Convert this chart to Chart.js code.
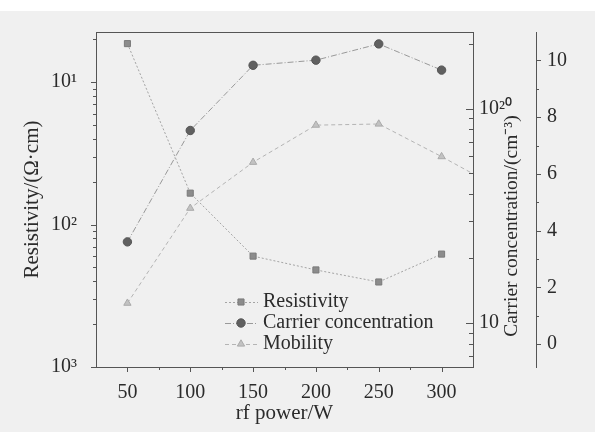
<!DOCTYPE html>
<html lang="zh-cn">
<head>
<meta charset="UTF-8">
<title>rf power</title>
<script src="https://cdn.jsdelivr.net/npm/chart.js"></script>
<style>
  html, body { margin: 0; padding: 0; background: #f0f0f0; }
  #box { width: 595px; height: 432px; }
</style>
</head>
<body>
<div id="box"><canvas id="grafico" width="595" height="432"></canvas></div>
<script>
// dados
var potencia = [50, 100, 150, 200, 250, 300, 350];
var resistividade = [0.186, 0.0166, 0.0060, 0.0048, 0.00395, 0.0062, null];
var concentracao = [2.39e19, 7.9e19, 1.59e20, 1.68e20, 2.0e20, 1.51e20, null];
var mobilidade = [1.44, 4.79, 6.41, 7.72, 7.76, 6.61, 5.4];

var xTicks = [50, 100, 150, 200, 250, 300];
var xMinor = [75, 125, 175, 225, 275];
var leftTicks = [1e-3, 1e-2, 1e-1];
var leftLabels = ['10³', '10²', '10¹'];
var innerTicks = [1e19, 1e20];
var innerLabels = ['10', '10²⁰'];
var outerTicks = [0, 2, 4, 6, 8, 10];
var outerMinor = [1, 3, 5, 7, 9];

function logMinors(lo, hi) {
    var out = [];
    for (var e = -4; e <= 21; e++) {
        for (var m = 2; m <= 9; m++) {
            var v = m * Math.pow(10, e);
            if (v > lo && v < hi) out.push(v);
        }
    }
    return out;
}

var fonte = 'Liberation Serif, Times New Roman, serif';
var corTexto = '#2b2b2b';
var corEixo = '#555';

function pts(ys) {
    return potencia.map(function (x, i) { return { x: x, y: ys[i] }; });
}

var fundo = {
    id: 'fundo',
    beforeDraw(chart) {
        var ctx = chart.ctx;
        ctx.save();
        ctx.fillStyle = '#f0f0f0';
        ctx.fillRect(0, 0, chart.width, chart.height);
        ctx.fillStyle = '#ffffff';
        ctx.fillRect(0, 0, chart.width, 11);
        ctx.restore();
    }
};

// tracinhos dos eixos (maiores e menores)
var marcas = {
    id: 'marcas',
    afterDraw(chart) {
        var ctx = chart.ctx;
        var a = chart.chartArea;
        var s = chart.scales;
        ctx.save();
        ctx.strokeStyle = corEixo;
        ctx.lineWidth = 1;
        ctx.beginPath();
        // borda de cima
        ctx.moveTo(a.left, a.top + 0.5);
        ctx.lineTo(a.right, a.top + 0.5);

        function horiz(scale, vals, len) {
            vals.forEach(function (v) {
                var p = Math.round(scale.getPixelForValue(v)) + 0.5;
                ctx.moveTo(p, a.bottom);
                ctx.lineTo(p, a.bottom + len);
            });
        }
        function vert(scale, vals, x, len) {
            vals.forEach(function (v) {
                var p = Math.round(scale.getPixelForValue(v)) + 0.5;
                ctx.moveTo(x, p);
                ctx.lineTo(x + len, p);
            });
        }
        horiz(s.x, xTicks, 5);
        horiz(s.x, xMinor, 3);
        vert(s.y, leftTicks, a.left, -5);
        vert(s.y, logMinors(s.y.min, s.y.max), a.left, -3);
        vert(s.y1, innerTicks, a.right, -7);
        vert(s.y1, logMinors(s.y1.min, s.y1.max), a.right, -4);
        vert(s.y2, outerTicks, s.y2.left, 5);
        vert(s.y2, outerMinor, s.y2.left, 3);
        ctx.stroke();

        // titulo do eixo da direita
        ctx.fillStyle = corTexto;
        ctx.font = '19.5px ' + fonte;
        ctx.textAlign = 'center';
        ctx.textBaseline = 'middle';
        ctx.translate(512, 226);
        ctx.rotate(-Math.PI / 2);
        ctx.fillText('Carrier concentration/(cm⁻³)', 0, 0);
        ctx.restore();
    }
};

// legenda com linha e marcador
var legenda = {
    id: 'legenda',
    afterDraw(chart) {
        var ctx = chart.ctx;
        ctx.save();
        chart.data.datasets.forEach(function (ds, i) {
            var y = 302 + i * 21;
            ctx.strokeStyle = ds.borderColor;
            ctx.lineWidth = 1;
            ctx.setLineDash(ds.borderDash);
            ctx.beginPath();
            ctx.moveTo(225, y + 0.5);
            ctx.lineTo(258, y + 0.5);
            ctx.stroke();
            ctx.setLineDash([]);
            ctx.fillStyle = ds.pointBackgroundColor;
            ctx.strokeStyle = ds.pointBorderColor;
            Chart.helpers.drawPoint(ctx, {
                pointStyle: ds.pointStyle,
                radius: ds.pointRadius,
                rotation: 0,
                borderWidth: 1
            }, 241, y);
            ctx.fillStyle = corTexto;
            ctx.font = '20px ' + fonte;
            ctx.textAlign = 'left';
            ctx.textBaseline = 'middle';
            ctx.fillText(ds.label, 263, y);
        });
        ctx.restore();
    }
};

const grafico = document.getElementById('grafico');

new Chart(grafico, {
    type: 'line',
    data: {
        datasets: [
            {
                label: 'Resistivity',
                data: pts(resistividade),
                yAxisID: 'y',
                borderColor: '#a4a4a4',
                borderWidth: 1,
                borderDash: [2, 2],
                pointStyle: 'rect',
                pointRadius: 4.3,
                pointBackgroundColor: '#8c8c8c',
                pointBorderColor: '#7a7a7a',
                pointBorderWidth: 1
            },
            {
                label: 'Carrier concentration',
                data: pts(concentracao),
                yAxisID: 'y1',
                borderColor: '#999999',
                borderWidth: 1,
                borderDash: [6, 2, 1, 2],
                pointStyle: 'circle',
                pointRadius: 4.2,
                pointBackgroundColor: '#606060',
                pointBorderColor: '#555555',
                pointBorderWidth: 1
            },
            {
                label: 'Mobility',
                data: pts(mobilidade),
                yAxisID: 'y2',
                borderColor: '#b4b4b4',
                borderWidth: 1,
                borderDash: [4, 3],
                pointStyle: 'triangle',
                pointRadius: 4.2,
                pointBackgroundColor: '#c2c2c2',
                pointBorderColor: '#aaaaaa',
                pointBorderWidth: 1
            }
        ]
    },
    options: {
        responsive: false,
        animation: false,
        layout: { padding: { top: 32, left: 0, right: 0, bottom: 0 } },
        plugins: {
            legend: { display: false },
            tooltip: { enabled: false }
        },
        scales: {
            x: {
                type: 'linear',
                min: 25,
                max: 325,
                afterFit: function (s) { s.height = 65; },
                afterBuildTicks: function (s) { s.ticks = xTicks.map(function (v) { return { value: v }; }); },
                grid: { display: false, drawTicks: false },
                border: { display: true, color: corEixo, width: 1 },
                ticks: {
                    autoSkip: false,
                    maxRotation: 0,
                    padding: 14,
                    color: corTexto,
                    font: { family: fonte, size: 20 },
                    callback: function (v) { return String(v); }
                },
                title: {
                    display: true,
                    text: 'rf power/W',
                    color: corTexto,
                    font: { family: fonte, size: 21 },
                    padding: { top: 0, bottom: 6 }
                }
            },
            y: {
                type: 'logarithmic',
                position: 'left',
                min: 1e-3,
                max: 0.2244,
                afterFit: function (s) { s.width = 96; },
                afterBuildTicks: function (s) { s.ticks = leftTicks.map(function (v) { return { value: v }; }); },
                grid: { display: false, drawTicks: false },
                border: { display: true, color: corEixo, width: 1 },
                ticks: {
                    autoSkip: false,
                    padding: 19,
                    color: corTexto,
                    font: { family: fonte, size: 20 },
                    callback: function (v, i) { return leftLabels[i]; }
                },
                title: {
                    display: true,
                    text: 'Resistivity/(Ω·cm)',
                    color: corTexto,
                    font: { family: fonte, size: 21 },
                    padding: { top: 20, bottom: 0 }
                }
            },
            y1: {
                type: 'logarithmic',
                position: 'right',
                weight: 0,
                min: 6.24e18,
                max: 2.273e20,
                afterFit: function (s) { s.width = 63; },
                afterBuildTicks: function (s) { s.ticks = innerTicks.map(function (v) { return { value: v }; }); },
                grid: { display: false, drawTicks: false },
                border: { display: true, color: corEixo, width: 1 },
                ticks: {
                    autoSkip: false,
                    padding: 6,
                    color: corTexto,
                    font: { family: fonte, size: 20 },
                    callback: function (v, i) { return innerLabels[i]; }
                }
            },
            y2: {
                type: 'linear',
                position: 'right',
                weight: 1,
                min: -0.811,
                max: 11.005,
                afterFit: function (s) { s.width = 59; },
                afterBuildTicks: function (s) { s.ticks = outerTicks.map(function (v) { return { value: v }; }); },
                grid: { display: false, drawTicks: false },
                border: { display: true, color: corEixo, width: 1 },
                ticks: {
                    autoSkip: false,
                    padding: 11,
                    color: corTexto,
                    font: { family: fonte, size: 20 },
                    callback: function (v) { return String(v); }
                }
            }
        }
    },
    plugins: [fundo, marcas, legenda]
});
</script>
</body>
</html>
